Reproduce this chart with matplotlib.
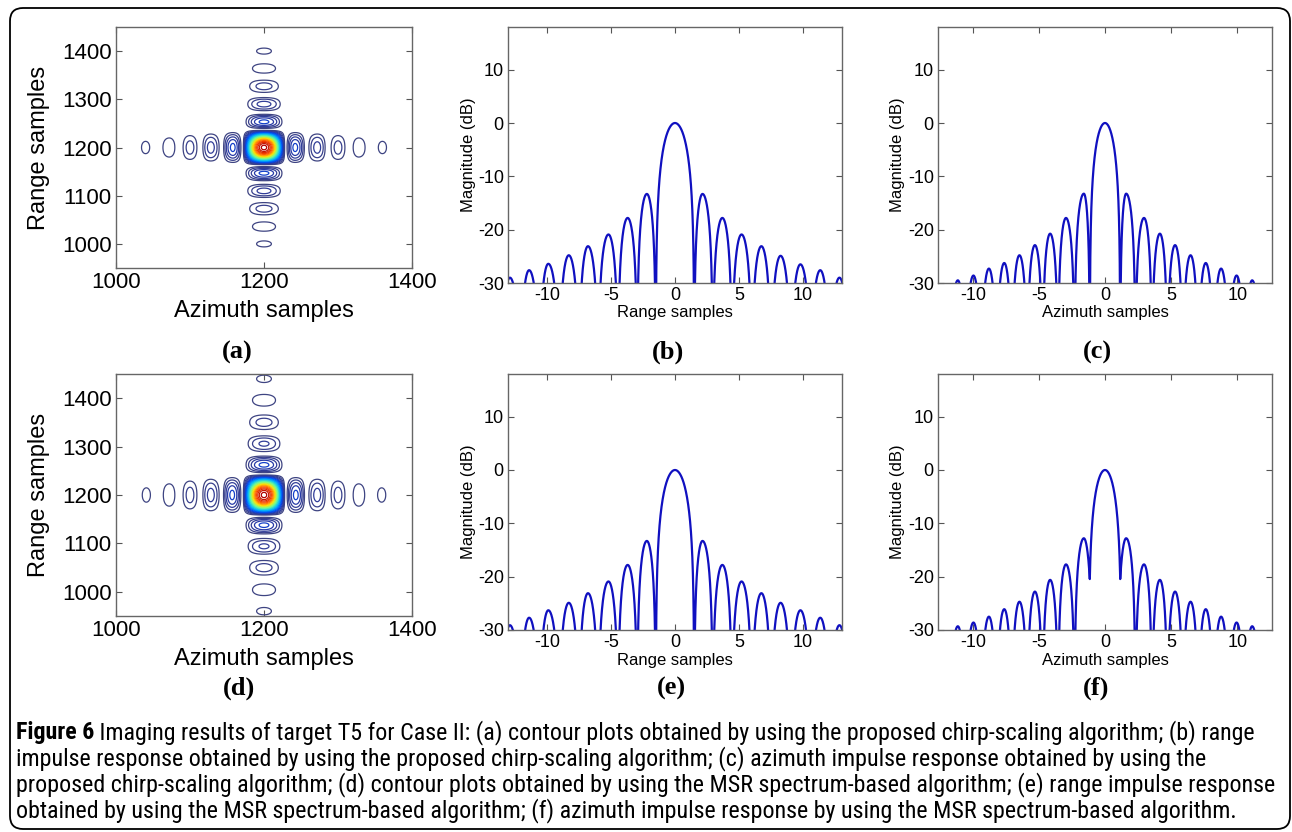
import numpy as np
import matplotlib
matplotlib.use('Agg')
import matplotlib.pyplot as plt
from matplotlib.patches import FancyBboxPatch
from matplotlib.colors import LinearSegmentedColormap
from matplotlib import font_manager
from matplotlib.font_manager import FontProperties

# ---------------- data ----------------
# contour plots (a)/(d): lobe centres and nulls (samples from 1200), lobe peak amplitudes
az_a_peaks = [-160, -128, -100, -72, -42, 0, 42, 72, 100, 128, 160]
az_a_nulls = [-176, -144, -114, -86, -57, -29, 29, 57, 86, 114, 144, 176]
az_a_amp = [0.07, 0.09, 0.12, 0.16, 0.235, 1.0, 0.235, 0.16, 0.12, 0.09, 0.07]
rg_a_peaks = [-200, -164, -127, -90, -53, 0, 53, 90, 127, 164, 200]
rg_a_nulls = [-218, -182, -146, -108, -72, -37, 37, 72, 108, 146, 182, 218]
rg_a_amp = [0.07, 0.09, 0.12, 0.16, 0.235, 1.0, 0.235, 0.16, 0.12, 0.09, 0.07]

az_d_peaks = [-159, -128, -100, -72, -43, 0, 43, 72, 100, 128, 159]
az_d_nulls = [-175, -143, -114, -86, -57, -29, 29, 57, 86, 114, 143, 175]
az_d_amp = [0.07, 0.09, 0.12, 0.16, 0.235, 1.0, 0.235, 0.16, 0.12, 0.09, 0.07]
rg_d_peaks = [-240, -196, -150, -106, -62, 0, 62, 106, 150, 196, 240]
rg_d_nulls = [-262, -218, -173, -128, -84, -43, 43, 84, 128, 173, 218, 262]
rg_d_amp = [0.07, 0.09, 0.12, 0.15, 0.235, 1.0, 0.235, 0.15, 0.12, 0.09, 0.07]
contour_levels = [0.06, 0.10, 0.14, 0.18, 0.22, 0.26, 0.30, 0.34, 0.38, 0.42, 0.46, 0.50,
                  0.54, 0.58, 0.62, 0.66, 0.70, 0.74, 0.78, 0.82, 0.86, 0.90, 0.94, 0.98]

# range impulse responses (b)/(e)
rng_peak_x = [-12.9, -11.4, -9.9, -8.3, -6.8, -5.2, -3.7, -2.2, 0, 2.15, 3.7, 5.2, 6.75, 8.25, 9.8, 11.35, 12.85]
rng_null_x = [-13.6, -12.1, -10.6, -9.05, -7.5, -6.0, -4.45, -2.95, -1.5,
              1.5, 2.95, 4.45, 6.0, 7.5, 9.05, 10.6, 12.1, 13.6]
rng_b_peak_db = [-29.0, -27.6, -26.4, -24.8, -23.1, -20.9, -17.8, -13.3, 0,
                 -13.3, -17.8, -20.9, -23.1, -24.9, -26.5, -27.6, -29.0]
rng_b_null_db = [-80] * 18
rng_e_peak_db = [-29.1, -27.7, -26.3, -24.9, -23.1, -20.9, -17.8, -13.3, 0,
                 -13.3, -17.8, -20.9, -23.1, -24.9, -26.3, -27.7, -29.1]
rng_e_null_db = [-80] * 18

# azimuth impulse responses (c)/(f)
azi_peak_x = [-11.13, -9.95, -8.78, -7.62, -6.47, -5.3, -4.15, -2.95, -1.6, 0,
              1.6, 2.95, 4.15, 5.3, 6.47, 7.62, 8.78, 9.95, 11.13]
azi_null_x = [-11.75, -10.55, -9.37, -8.2, -7.05, -5.88, -4.72, -3.55, -2.3, -1.15,
              1.15, 2.3, 3.55, 4.72, 5.88, 7.05, 8.2, 9.37, 10.55, 11.75]
azi_c_peak_db = [-29.5, -28.6, -27.3, -26.25, -24.8, -22.9, -20.75, -17.8, -13.25, 0,
                 -13.25, -17.8, -20.75, -22.9, -24.8, -26.25, -27.3, -28.6, -29.5]
azi_c_null_db = [-80] * 20
azi_f_peak_db = [-29.3, -28.6, -27.5, -26.1, -24.7, -22.8, -20.6, -17.7, -12.8, 0,
                 -12.8, -17.7, -20.6, -22.8, -24.7, -26.1, -27.5, -28.6, -29.3]
azi_f_null_db = [-80, -80, -80, -80, -80, -80, -80, -80, -80, -20.5,
                 -20.5, -80, -80, -80, -80, -80, -80, -80, -80, -80]

caption_bold = 'Figure 6'
caption_lines = [
    ' Imaging results of target T5 for Case II: (a) contour plots obtained by using the proposed chirp-scaling algorithm; (b) range',
    'impulse response obtained by using the proposed chirp-scaling algorithm; (c) azimuth impulse response obtained by using the',
    'proposed chirp-scaling algorithm; (d) contour plots obtained by using the MSR spectrum-based algorithm; (e) range impulse response',
    'obtained by using the MSR spectrum-based algorithm; (f) azimuth impulse response by using the MSR spectrum-based algorithm.',
]


def lobes(x, peak_x, peak_amp, null_x, null_amp):
    # quarter-cosine shape between each read peak and its neighbouring nulls
    nodes = sorted([(p, a, True) for p, a in zip(peak_x, peak_amp)] +
                   [(n, a, False) for n, a in zip(null_x, null_amp)])
    out = np.full_like(x, 1e-4, dtype=float)
    for (p0, a0, k0), (p1, a1, k1) in zip(nodes[:-1], nodes[1:]):
        m = (x >= p0) & (x <= p1)
        if k0:
            t = (x[m] - p0) / (p1 - p0)
            out[m] = a1 + (a0 - a1) * np.cos(np.pi / 2 * t)
        else:
            t = (p1 - x[m]) / (p1 - p0)
            out[m] = a0 + (a1 - a0) * np.cos(np.pi / 2 * t)
    return out


def style(ax, fs):
    ax.tick_params(direction='in', top=True, right=True, length=4, width=0.8,
                   color='#555555', labelsize=fs, pad=3)
    for s in ax.spines.values():
        s.set_color('#666666')
        s.set_linewidth(1.0)


plt.rcParams['font.family'] = ['Liberation Sans', 'DejaVu Sans']
plt.rcParams['axes.unicode_minus'] = False
fig = plt.figure(figsize=(12.92, 8.32), dpi=100)
W, H = 1292.0, 832.0

# jet-like map with the muted navy low end seen in the scan
cmap = LinearSegmentedColormap.from_list('jetish', [
    (0.0, '#3e4482'), (0.12, '#2c3aa0'), (0.22, '#0048f0'), (0.38, '#00b8ff'),
    (0.55, '#70ff90'), (0.70, '#ffe000'), (0.85, '#ff4a00'), (1.0, '#b00000')])


def add_ax(x0, y0, x1, y1):
    return fig.add_axes([x0 / W, 1 - y1 / H, (x1 - x0) / W, (y1 - y0) / H])


# ---- contour panels ----
xs = np.arange(1000, 1401, 1.0)
ys = np.arange(950, 1451, 1.0)
for (y0, y1), az, rg in [((27, 268), (az_a_peaks, az_a_nulls, az_a_amp), (rg_a_peaks, rg_a_nulls, rg_a_amp)),
                         ((374, 616), (az_d_peaks, az_d_nulls, az_d_amp), (rg_d_peaks, rg_d_nulls, rg_d_amp))]:
    ax = add_ax(116, y0, 412, y1)
    pa = lobes(xs - 1200, az[0], az[2], az[1], [0] * len(az[1]))
    pr = lobes(ys - 1200, rg[0], rg[2], rg[1], [0] * len(rg[1]))
    ax.contour(xs, ys, np.outer(pr, pa), levels=contour_levels, cmap=cmap, linewidths=0.9)
    ax.set_xlim(1000, 1400)
    ax.set_ylim(950, 1450)
    ax.set_xticks([1000, 1200, 1400])
    ax.set_yticks([1000, 1100, 1200, 1300, 1400])
    style(ax, 16)
    ax.set_xlabel('Azimuth samples', fontsize=17)
    ax.set_ylabel('Range samples', fontsize=17)
    ax.xaxis.label.set_va('center')
    ax.yaxis.label.set_va('center')
    ax.xaxis.set_label_coords(0.5, -(43 / (y1 - y0)))
    ax.yaxis.set_label_coords(-77 / 296, 0.5)

# ---- impulse responses ----
panels = [
    ((508, 27, 842, 283), rng_peak_x, rng_b_peak_db, rng_null_x, rng_b_null_db, 13.05, 'Range samples'),
    ((938, 27, 1272, 283), azi_peak_x, azi_c_peak_db, azi_null_x, azi_c_null_db, 12.63, 'Azimuth samples'),
    ((508, 374, 842, 630), rng_peak_x, rng_e_peak_db, rng_null_x, rng_e_null_db, 13.05, 'Range samples'),
    ((938, 374, 1272, 630), azi_peak_x, azi_f_peak_db, azi_null_x, azi_f_null_db, 12.63, 'Azimuth samples'),
]
for box, px, pdb, nx, ndb, xl, lab in panels:
    ax = add_ax(*box)
    x = np.linspace(-xl, xl, 5000)
    amp = lobes(x, px, 10 ** (np.array(pdb) / 20.0), nx, 10 ** (np.array(ndb) / 20.0))
    ax.plot(x, 20 * np.log10(amp), color='#1010c0', lw=1.6)
    ax.set_xlim(-xl, xl)
    ax.set_ylim(-30, 18)
    ax.set_xticks([-10, -5, 0, 5, 10])
    ax.set_yticks([-30, -20, -10, 0, 10])
    style(ax, 13)
    ax.set_xlabel(lab, fontsize=12)
    ax.set_ylabel('Magnitude (dB)', fontsize=12)
    ax.xaxis.label.set_va('center')
    ax.yaxis.label.set_va('center')
    ax.xaxis.set_label_coords(0.5, -30 / 256)
    ax.yaxis.set_label_coords(-40 / 334, 0.5)

# ---- panel letters ----
for lbl, cx, cy in [('(a)', 237, 352), ('(b)', 668, 352), ('(c)', 1097, 352),
                    ('(d)', 239, 688), ('(e)', 671, 688), ('(f)', 1096, 688)]:
    fig.text(cx / W, 1 - cy / H, lbl, ha='center', va='center', fontsize=19,
             fontweight='bold', family=['Liberation Serif', 'DejaVu Serif'])

# ---- frame ----
fig.patches.append(FancyBboxPatch((0.1, 0.03), 12.8, 8.21, boxstyle='round,pad=0,rounding_size=0.13',
                                  transform=fig.dpi_scale_trans, fill=False, ec='black', lw=1.3))


# ---- caption (condensed face if one is installed) ----
def wt(f):
    w = f.weight
    if isinstance(w, str):
        return 700 if 'bold' in w.lower() else 400
    return w


reg_fp, bold_fp = None, None
for fam in ['Noto Sans', 'Open Sans', 'Roboto Condensed', 'Roboto', 'Liberation Sans Narrow', 'DejaVu Sans']:
    ents = [f for f in font_manager.fontManager.ttflist
            if f.name == fam and f.style == 'normal'
            and ('condensed' in str(f.stretch).lower() or 'Narrow' in fam or 'Condensed' in fam)
            and 'semi' not in str(f.stretch).lower() and 'extra' not in str(f.stretch).lower()
            and 'ultra' not in str(f.stretch).lower()]
    r_ = [f for f in ents if wt(f) == 400]
    b_ = [f for f in ents if wt(f) == 700]
    if r_ and b_:
        reg_fp = FontProperties(fname=r_[0].fname)
        bold_fp = FontProperties(fname=b_[0].fname)
        break
if reg_fp is None:
    reg_fp = FontProperties(family='Liberation Sans')
    bold_fp = FontProperties(family='Liberation Sans', weight='bold')

cap_y = [733, 759, 785, 811]
fs = 12
bold_fp.set_size(fs)
reg_fp.set_size(fs)
t_bold = fig.text(16 / W, 1 - cap_y[0] / H, caption_bold, fontproperties=bold_fp.copy(),
                  va='center', ha='left')
texts = []
for i, line in enumerate(caption_lines):
    t = fig.text(16 / W, 1 - cap_y[i] / H, line, fontproperties=reg_fp.copy(), va='center', ha='left')
    texts.append(t)

fig.canvas.draw()
r = fig.canvas.get_renderer()
w3 = texts[2].get_window_extent(r).width
scale = 1257.0 / w3
for t in texts + [t_bold]:
    t.set_fontsize(fs * scale)
fig.canvas.draw()
wb = t_bold.get_window_extent(r).width
texts[0].set_x((16 + wb) / W)

fig.savefig('out.png', dpi=100)
